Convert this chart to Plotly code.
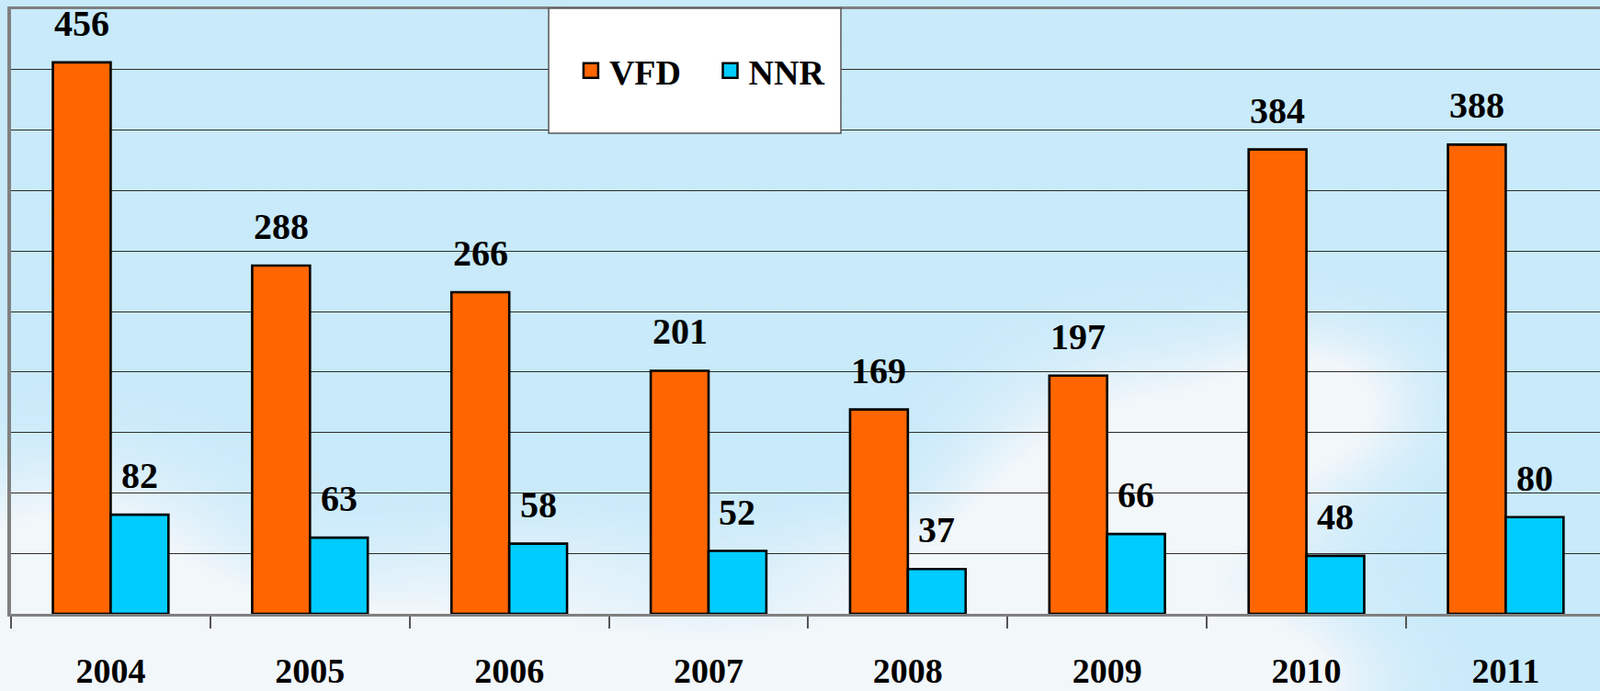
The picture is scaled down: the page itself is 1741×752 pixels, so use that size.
import base64, struct, zlib
import numpy as np
import plotly.graph_objects as go

# ---------------- data ----------------
years = ["2004", "2005", "2006", "2007", "2008", "2009", "2010", "2011"]
vfd = [456, 288, 266, 201, 169, 197, 384, 388]
nnr = [82, 63, 58, 52, 37, 66, 48, 80]
series_names = ["VFD", "NNR"]
series_colors = ["#ff6600", "#00ccff"]

# ---------------- background image (sky with soft clouds) ----------------
def make_png(arr):
    h, w, _ = arr.shape
    raw = b"".join(b"\x00" + arr[r].astype(np.uint8).tobytes() for r in range(h))
    def chunk(tag, data):
        c = struct.pack(">I", len(data)) + tag + data
        return c + struct.pack(">I", zlib.crc32(tag + data) & 0xffffffff)
    png = b"\x89PNG\r\n\x1a\n"
    png += chunk(b"IHDR", struct.pack(">IIBBBBB", w, h, 8, 2, 0, 0, 0))
    png += chunk(b"IDAT", zlib.compress(raw, 9))
    png += chunk(b"IEND", b"")
    return "data:image/png;base64," + base64.b64encode(png).decode()

W, H = 348, 150
yy, xx = np.mgrid[0:H, 0:W]
u = xx / W
v = yy / H
blue = np.array([200, 234, 250], float)
white = np.array([242, 247, 250], float)
mask = np.zeros((H, W))
clouds = [(0.04, 0.85, 0.10, 0.16, 1.6), (0.20, 1.00, 0.16, 0.12, 1.6),
          (0.42, 1.02, 0.22, 0.12, 1.5), (0.64, 1.00, 0.14, 0.12, 1.5),
          (0.72, 0.70, 0.09, 0.16, 1.8), (0.82, 0.58, 0.06, 0.10, 1.3),
          (0.64, 0.80, 0.06, 0.12, 1.0), (0.33, 0.82, 0.12, 0.08, 0.5),
          (0.10, 0.98, 0.12, 0.10, 1.2), (0.55, 0.82, 0.08, 0.08, 0.6),
          (0.78, 0.98, 0.07, 0.10, 1.2)]
for cx, cy, sx, sy, a in clouds:
    mask += a * np.exp(-(((u - cx) / sx) ** 2 + ((v - cy) / sy) ** 2))
mask = np.clip(mask, 0, 1)
img = blue[None, None, :] * (1 - mask[..., None]) + white[None, None, :] * mask[..., None]
bg_uri = make_png(img)

# ---------------- figure ----------------
FIG_W, FIG_H = 1741, 752
ML, MR, MT, MB = 12, 0, 10, 84
pw = FIG_W - ML - MR
ph = FIG_H - MT - MB

SERIF = "Liberation Serif"
NB = "\u00a0"

fig = go.Figure()
for name, vals, col in zip(series_names, [vfd, nnr], series_colors):
    fig.add_trace(go.Bar(
        x=years, y=vals, name=name, showlegend=False,
        marker=dict(color=col, line=dict(color="#000000", width=2.6)),
        hoverinfo="x+y+name",
    ))
# legend proxies (bigger square symbols)
legend_labels = ["<b>VFD</b>" + NB * 3, "<b>NNR</b>"]
for lab, col in zip(legend_labels, series_colors):
    fig.add_trace(go.Scatter(
        x=[None], y=[None], name=lab, mode="markers",
        marker=dict(symbol="square", size=16, color=col,
                    line=dict(color="#000000", width=2.5)),
    ))

label_font = dict(family=SERIF, size=40, color="#000000")
annotations = []
for s, vals in enumerate([vfd, nnr]):
    off = -0.145 if s == 0 else 0.145
    for i, val in enumerate(vals):
        annotations.append(dict(
            x=i + off, y=val, xref="x", yref="y", text="<b>%d</b>" % val,
            showarrow=False, yanchor="bottom", xanchor="center", yshift=18,
            font=label_font,
        ))

bx0 = (597 - ML) / pw
bx1 = (915 - ML) / pw
by1 = (FIG_H - MB - 9) / ph
by0 = (FIG_H - MB - 145) / ph

fig.update_layout(
    width=FIG_W, height=FIG_H,
    margin=dict(l=ML, r=MR, t=MT, b=MB, pad=0, autoexpand=False),
    paper_bgcolor="#c8eafa",
    plot_bgcolor="rgba(0,0,0,0)",
    barmode="group", bargap=0.42, bargroupgap=0.0,
    font=label_font,
    annotations=annotations,
    images=[dict(source=bg_uri, xref="paper", yref="paper",
                 x=-ML / pw, y=1 + MT / ph, sizex=FIG_W / pw, sizey=FIG_H / ph,
                 sizing="stretch", xanchor="left", yanchor="top", layer="below")],
    shapes=[dict(type="rect", xref="paper", yref="paper", x0=bx0, x1=bx1, y0=by0, y1=by1,
                 fillcolor="#ffffff", line=dict(color="#555555", width=1.5), layer="above")],
    legend=dict(orientation="h", x=(bx0 + bx1) / 2 + 0.004, y=(by0 + by1) / 2,
                xanchor="center", yanchor="middle",
                bgcolor="rgba(0,0,0,0)", borderwidth=0,
                font=dict(family=SERIF, size=38, color="#000000"),
                itemwidth=30, tracegroupgap=0),
    xaxis=dict(
        type="category", range=[-0.5, 7.473], automargin=False,
        showline=True, linecolor="#808080", linewidth=2.5, mirror=True,
        ticks="outside", tickson="boundaries", ticklen=13, tickwidth=1.5, tickcolor="#555555",
        showgrid=False, ticklabelstandoff=27,
        tickfont=dict(family=SERIF, size=38, color="#000000", weight="bold"),
    ),
    yaxis=dict(
        range=[0, 500], dtick=50, showticklabels=False, automargin=False,
        showline=True, linecolor="#808080", linewidth=3.5,
        showgrid=True, gridcolor="#2b2b2b", gridwidth=1.3, zeroline=False, ticks="",
    ),
)

fig.write_html("out.html", config={"displayModeBar": False},
               post_script="document.body.style.margin='0';document.body.style.overflow='hidden';")
